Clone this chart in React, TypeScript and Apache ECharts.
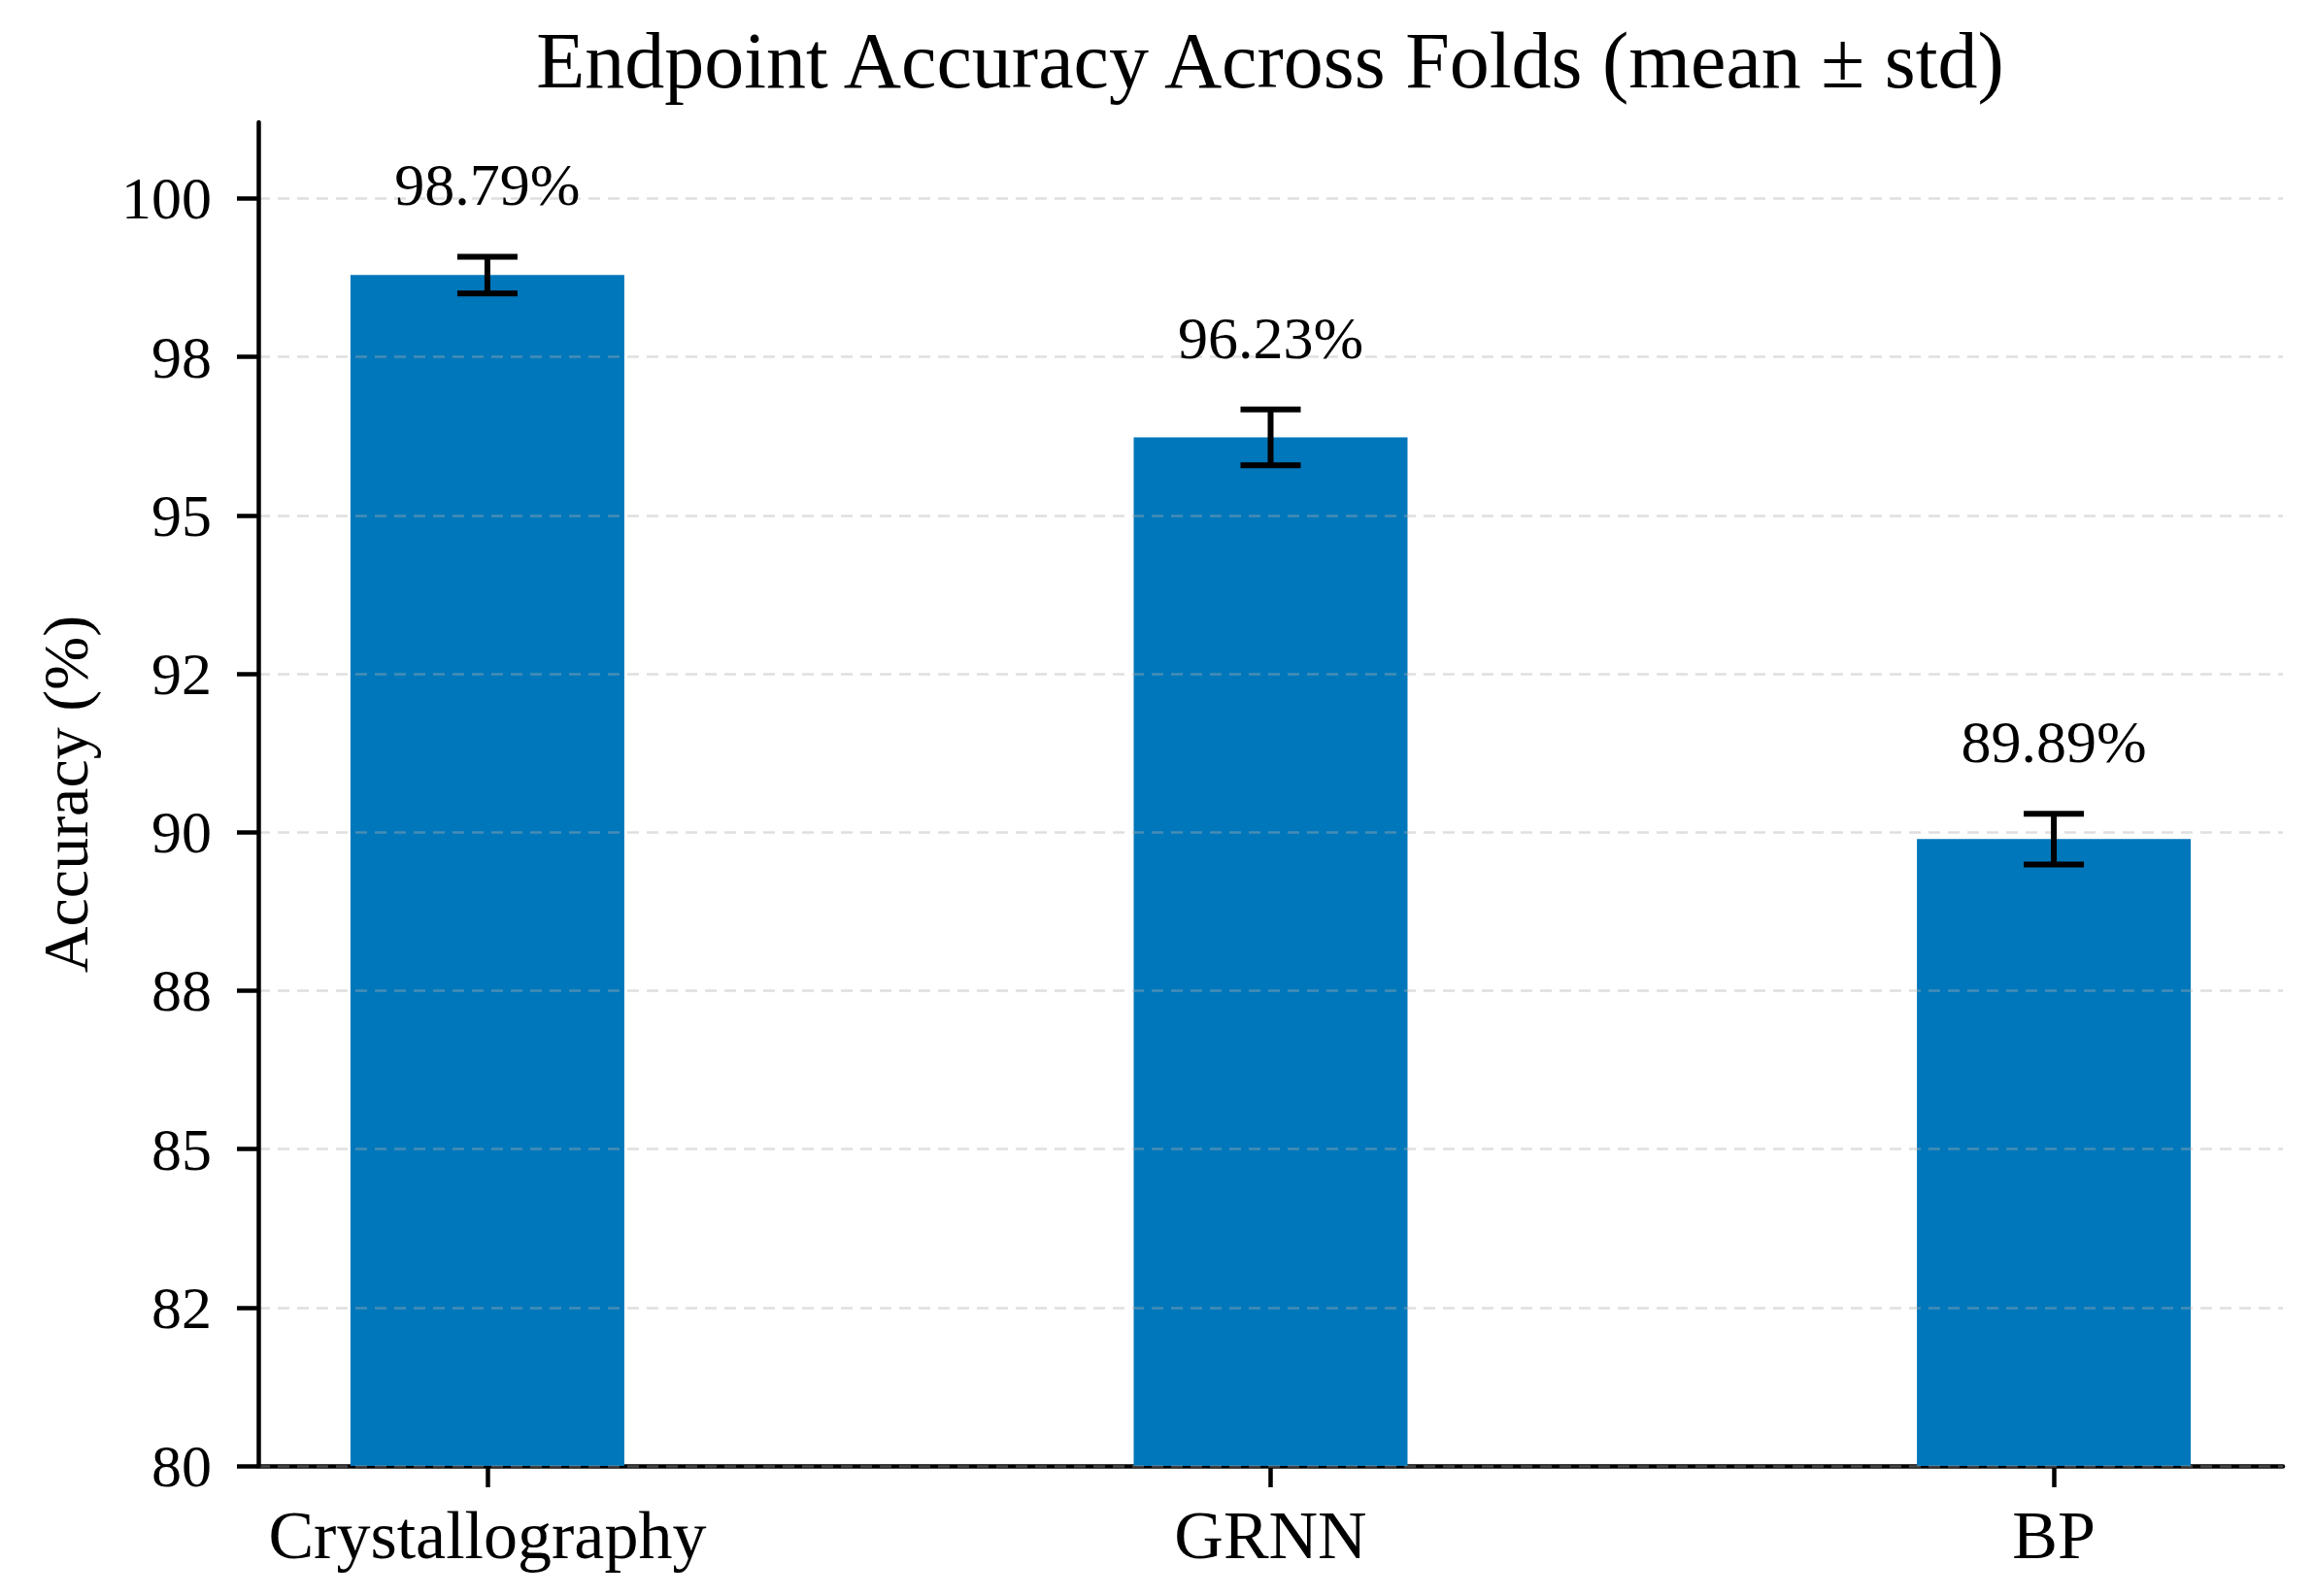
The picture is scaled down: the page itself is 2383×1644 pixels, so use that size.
import React, { useEffect, useRef } from "react";
import * as echarts from "echarts";

const categories = ["Crystallography", "GRNN", "BP"];
const meanValues = [98.79, 96.23, 89.89];
const stdValues = [0.29, 0.44, 0.4];
const yTickValues = [80, 82.5, 85, 87.5, 90, 92.5, 95, 97.5, 100];
const yTickLabels = ["80", "82", "85", "88", "90", "92", "95", "98", "100"];
const xTickValues = [0, 1, 2];

const FONT = "'Liberation Serif', 'Times New Roman', serif";

export default function App() {
  const ref = useRef<HTMLDivElement>(null);
  useEffect(() => {
    if (!ref.current) return;
    const chart = echarts.init(ref.current, null, { renderer: "svg" });
    const barData = meanValues.map((m, i) => [i, m]);
    const errData = meanValues.map((m, i) => [i, m, stdValues[i]]);
    chart.setOption({
      animation: false,
      backgroundColor: "#ffffff",
      title: {
        text: "Endpoint Accuracy Across Folds (mean ± std)",
        left: 1308,
        textAlign: "center",
        top: 21,
        padding: 0,
        textStyle: { fontFamily: FONT, fontSize: 82, fontWeight: "normal", color: "#000" },
      },
      grid: { left: 266, right: 32, top: 126, bottom: 134, containLabel: false },
      xAxis: {
        type: "value",
        min: -0.2925,
        max: 2.2925,
        axisLine: { show: true, onZero: false, lineStyle: { color: "#000", width: 4.5 } },
        axisTick: { show: true, customValues: xTickValues, length: 22, lineStyle: { color: "#000", width: 4.5 } },
        axisLabel: {
          customValues: xTickValues,
          formatter: (v: number) => categories[Math.round(v)] ?? "",
          margin: 36,
          fontFamily: FONT,
          fontSize: 70,
          color: "#000",
        },
        splitLine: { show: false },
      },
      yAxis: {
        type: "value",
        min: 80,
        max: 101.2,
        z: 3,
        name: "Accuracy (%)",
        nameLocation: "middle",
        nameGap: 166,
        nameRotate: 90,
        nameTextStyle: { fontFamily: FONT, fontSize: 66, color: "#000" },
        axisLine: { show: true, onZero: false, lineStyle: { color: "#000", width: 4.5 } },
        axisTick: { show: true, customValues: yTickValues, length: 22, lineStyle: { color: "#000", width: 4.5 } },
        axisLabel: {
          customValues: yTickValues,
          formatter: (v: number) => {
            const idx = yTickValues.indexOf(v);
            return idx >= 0 ? yTickLabels[idx] : "";
          },
          margin: 48,
          fontFamily: FONT,
          fontSize: 62,
          color: "#000",
        },
        splitLine: {
          show: true,
          lineStyle: { color: "rgba(176,176,176,0.4)", width: 2.5, type: [12, 8] },
        },
      },
      series: [
        {
          type: "bar",
          data: barData,
          barWidth: 282,
          itemStyle: { color: "#0077BB" },
          z: 2,
        },
        {
          type: "custom",
          z: 5,
          data: errData,
          renderItem: (params: any, api: any) => {
            const x = api.value(0);
            const m = api.value(1);
            const s = api.value(2);
            const top = api.coord([x, m + s]);
            const bot = api.coord([x, m - s]);
            const cap = 31;
            const ls = { stroke: "#000", lineWidth: 6 };
            return {
              type: "group",
              children: [
                { type: "line", shape: { x1: top[0], y1: top[1], x2: bot[0], y2: bot[1] }, style: ls },
                { type: "line", shape: { x1: top[0] - cap, y1: top[1], x2: top[0] + cap, y2: top[1] }, style: ls },
                { type: "line", shape: { x1: bot[0] - cap, y1: bot[1], x2: bot[0] + cap, y2: bot[1] }, style: ls },
                {
                  type: "text",
                  x: top[0],
                  y: top[1] - 43,
                  style: {
                    text: m.toFixed(2) + "%",
                    fontFamily: FONT,
                    fontSize: 62,
                    fill: "#000",
                    align: "center",
                    verticalAlign: "bottom",
                  },
                },
              ],
            };
          },
        },
      ],
    });
    return () => chart.dispose();
  }, []);
  return (
    <div
      ref={ref}
      style={{ position: "absolute", left: 0, top: 0, width: 2383, height: 1644 }}
    />
  );
}
